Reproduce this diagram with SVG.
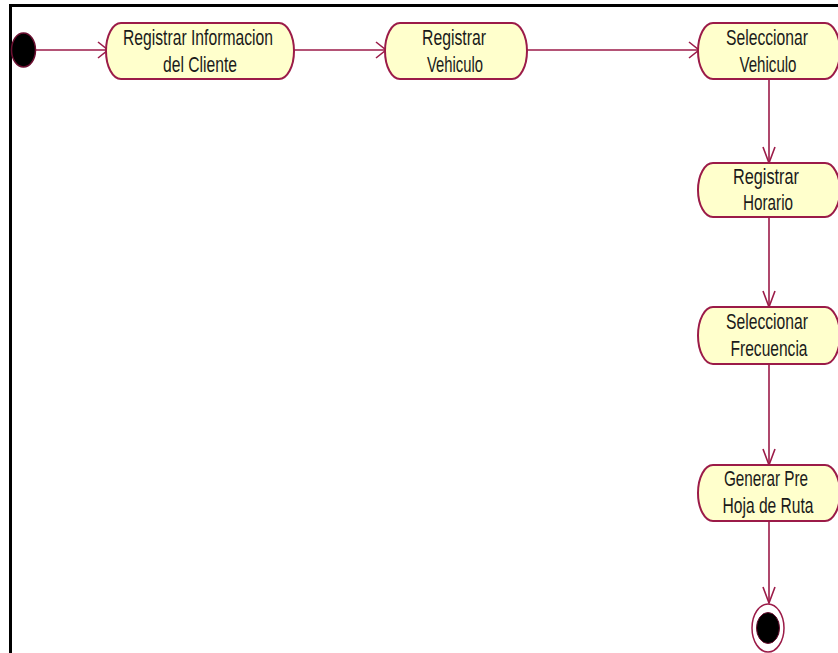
<svg xmlns="http://www.w3.org/2000/svg" width="838" height="653" viewBox="0 0 838 653">
<style>
.node{fill:#FFFFCC;stroke:#9B1B48;stroke-width:2}
.lbl{font-family:"Liberation Sans",Arial,sans-serif;font-size:22px;fill:#1a1a1a;text-anchor:middle}
.edge{stroke:#9B1B48;stroke-width:1.6;fill:none}
.head{stroke:#9B1B48;stroke-width:1.6;fill:none}
</style>
<defs>
<marker id="ah" markerUnits="userSpaceOnUse" markerWidth="14" markerHeight="20" refX="12" refY="9" orient="auto">
<path d="M2,1 L12,9 L2,17" class="head"/>
</marker>
<marker id="av" markerUnits="userSpaceOnUse" markerWidth="20" markerHeight="20" refX="8" refY="17" orient="0">
<path d="M2,1 L8,17 L14,1" class="head"/>
</marker>
</defs>
<rect x="0" y="0" width="838" height="653" fill="#fff"/>
<path d="M10.5,653 V5.5 H838" stroke="#000" stroke-width="3" fill="none"/>
<g id="edges">
<path class="edge" d="M36,50 H108" marker-end="url(#ah)"/>
<path class="edge" d="M294,50 H386" marker-end="url(#ah)"/>
<path class="edge" d="M527,50 H699" marker-end="url(#ah)"/>
<path class="edge" d="M769,79 V163" marker-end="url(#av)"/>
<path class="edge" d="M769,217 V307" marker-end="url(#av)"/>
<path class="edge" d="M769,364 V465" marker-end="url(#av)"/>
<path class="edge" d="M769,521 V603" marker-end="url(#av)"/>
</g>
<g id="start">
<ellipse cx="23.5" cy="50" rx="12" ry="17" fill="#000" stroke="#6a0f30" stroke-width="1.5"/>
</g>
<g id="n1">
<path class="node" d="M121,23 H279 A15,28 0 0 1 279,79 H121 A15,28 0 0 1 121,23 Z"/>
<text class="lbl" x="198" y="45" textLength="150" lengthAdjust="spacingAndGlyphs">Registrar Informacion</text>
<text class="lbl" x="200" y="72" textLength="74" lengthAdjust="spacingAndGlyphs">del Cliente</text>
</g>
<g id="n2">
<path class="node" d="M400,23 H512 A15,28 0 0 1 512,79 H400 A15,28 0 0 1 400,23 Z"/>
<text class="lbl" x="454" y="45" textLength="64" lengthAdjust="spacingAndGlyphs">Registrar</text>
<text class="lbl" x="455" y="72" textLength="56" lengthAdjust="spacingAndGlyphs">Vehiculo</text>
</g>
<g id="n3">
<path class="node" d="M713,23 H825 A15,28 0 0 1 825,79 H713 A15,28 0 0 1 713,23 Z"/>
<text class="lbl" x="767" y="45" textLength="82" lengthAdjust="spacingAndGlyphs">Seleccionar</text>
<text class="lbl" x="768" y="72" textLength="57" lengthAdjust="spacingAndGlyphs">Vehiculo</text>
</g>
<g id="n4">
<path class="node" d="M713,163 H825 A15,27 0 0 1 825,217 H713 A15,27 0 0 1 713,163 Z"/>
<text class="lbl" x="766" y="184" textLength="66" lengthAdjust="spacingAndGlyphs">Registrar</text>
<text class="lbl" x="768" y="210" textLength="50" lengthAdjust="spacingAndGlyphs">Horario</text>
</g>
<g id="n5">
<path class="node" d="M713,307 H825 A15,28.5 0 0 1 825,364 H713 A15,28.5 0 0 1 713,307 Z"/>
<text class="lbl" x="767" y="329" textLength="82" lengthAdjust="spacingAndGlyphs">Seleccionar</text>
<text class="lbl" x="769" y="356" textLength="77" lengthAdjust="spacingAndGlyphs">Frecuencia</text>
</g>
<g id="n6">
<path class="node" d="M713,465 H825 A15,28 0 0 1 825,521 H713 A15,28 0 0 1 713,465 Z"/>
<text class="lbl" x="766" y="486" textLength="84" lengthAdjust="spacingAndGlyphs">Generar Pre</text>
<text class="lbl" x="768" y="513" textLength="91" lengthAdjust="spacingAndGlyphs">Hoja de Ruta</text>
</g>
<g id="end">
<ellipse cx="768" cy="628" rx="16" ry="24" fill="#fff" stroke="#9B1B48" stroke-width="1.5"/>
<ellipse cx="768" cy="628" rx="11.5" ry="15.5" fill="#000" stroke="#6a0f30" stroke-width="1"/>
</g>
</svg>
